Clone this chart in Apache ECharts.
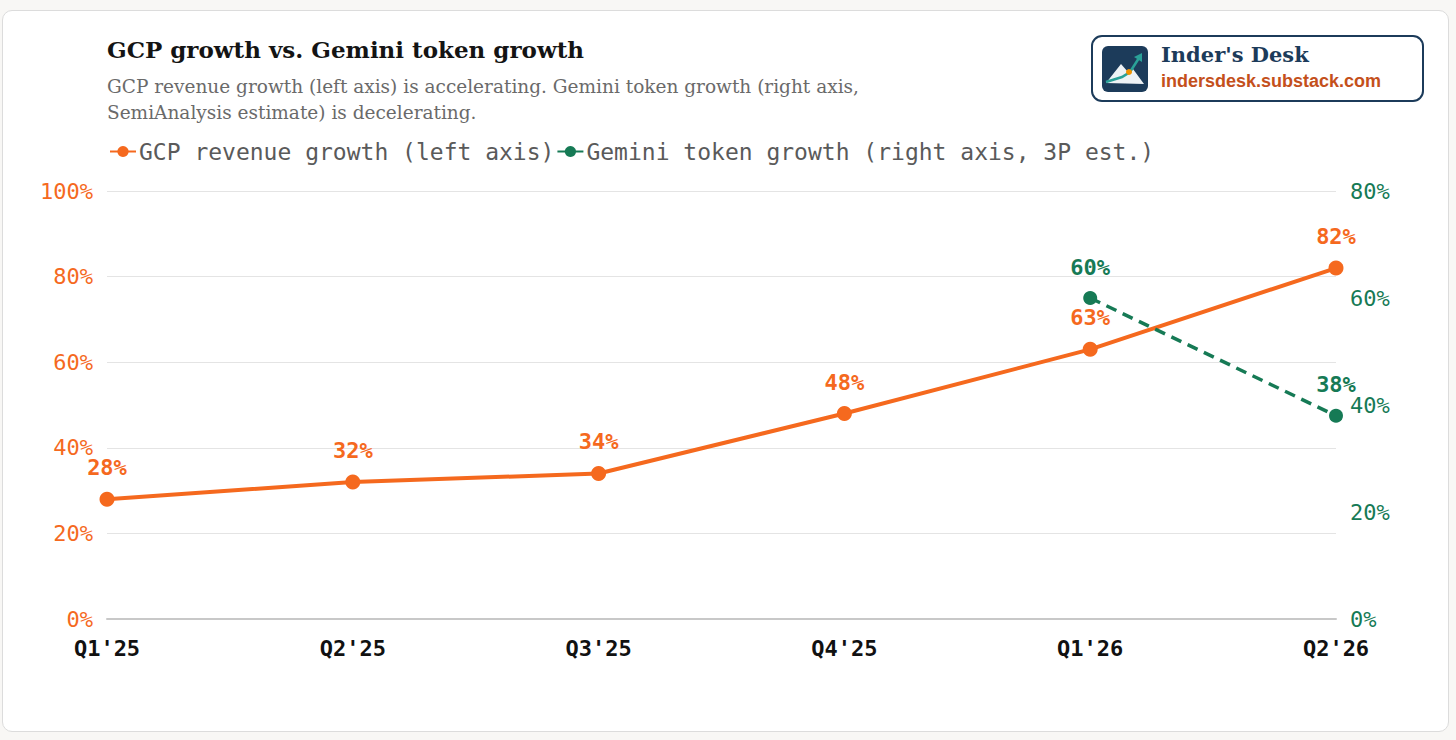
<!DOCTYPE html>
<html>
<head>
<meta charset="utf-8">
<script src="https://cdn.jsdelivr.net/npm/echarts@6/dist/echarts.min.js"></script>
<style>
html,body{margin:0;padding:0;width:1456px;height:740px;background:#f8f7f5;overflow:hidden;}
#card{position:absolute;left:2px;top:10px;width:1445px;height:720px;background:#fff;border:1px solid #dcdcdc;border-radius:10px;}
#chart{position:absolute;left:0;top:0;width:1456px;height:740px;}
</style>
</head>
<body>
<div id="card"></div>
<div id="chart"></div>
<script>
const categories = ["Q1'25", "Q2'25", "Q3'25", "Q4'25", "Q1'26", "Q2'26"];
const gcpGrowth = [28, 32, 34, 48, 63, 82];
const geminiGrowth = [null, null, null, null, 60, 38];
const leftTicks = [0, 20, 40, 60, 80, 100];
const rightTicks = [0, 20, 40, 60, 80];
const titleText = 'GCP growth vs. Gemini token growth';
const subText = 'GCP revenue growth (left axis) is accelerating. Gemini token growth (right axis,\nSemiAnalysis estimate) is decelerating.';
const seriesNames = ['GCP revenue growth (left axis)', 'Gemini token growth (right axis, 3P est.)'];

const ORANGE = '#f5691e';
const GREEN = '#167a55';
const NAVY = '#1c3b5a';
const MONO = "'DejaVu Sans Mono', monospace";

const chart = echarts.init(document.getElementById('chart'), null, {renderer: 'svg'});
chart.setOption({
  backgroundColor: 'transparent',
  animation: false,
  title: {
    text: titleText,
    subtext: subText,
    left: 102,
    top: 33,
    itemGap: 12,
    textStyle: {fontFamily: "'DejaVu Serif', serif", fontWeight: 'bold', fontSize: 23, color: '#141414'},
    subtextStyle: {fontFamily: "'DejaVu Serif', serif", fontSize: 18.5, color: '#6a6a6a', lineHeight: 26}
  },
  legend: {
    left: 104,
    top: 135,
    itemWidth: 26,
    itemHeight: 14,
    itemGap: 2,
    textStyle: {fontFamily: MONO, fontSize: 23, color: '#5a5a5a', padding: [0, 0, 0, -2]},
    data: seriesNames
  },
  grid: {left: 107, right: 120, top: 191, bottom: 121, containLabel: false},
  xAxis: {
    type: 'category',
    data: categories,
    boundaryGap: false,
    axisLine: {lineStyle: {color: '#c8c8c8', width: 2}},
    axisTick: {show: false},
    axisLabel: {fontFamily: MONO, fontWeight: 'bold', fontSize: 22, color: '#111', margin: 18}
  },
  yAxis: [
    {
      type: 'value', min: leftTicks[0], max: leftTicks[leftTicks.length - 1], interval: 20,
      axisLine: {show: false}, axisTick: {show: false},
      splitLine: {lineStyle: {color: '#e4e4e4', width: 1}},
      axisLabel: {formatter: '{value}%', fontFamily: MONO, fontSize: 22, color: ORANGE, margin: 14}
    },
    {
      type: 'value', min: rightTicks[0], max: rightTicks[rightTicks.length - 1], interval: 20,
      position: 'right',
      axisLine: {show: false}, axisTick: {show: false},
      splitLine: {show: false},
      axisLabel: {formatter: '{value}%', fontFamily: MONO, fontSize: 22, color: GREEN, margin: 14}
    }
  ],
  series: [
    {
      name: seriesNames[0],
      type: 'line',
      yAxisIndex: 0,
      data: gcpGrowth,
      symbol: 'circle',
      symbolSize: 15,
      itemStyle: {color: ORANGE},
      lineStyle: {color: ORANGE, width: 4},
      label: {show: true, position: 'top', distance: 13, formatter: '{c}%', fontFamily: MONO, fontWeight: 'bold', fontSize: 22, color: ORANGE}
    },
    {
      name: seriesNames[1],
      type: 'line',
      yAxisIndex: 1,
      data: geminiGrowth,
      symbol: 'circle',
      symbolSize: 14,
      itemStyle: {color: GREEN},
      lineStyle: {color: GREEN, width: 3.5, type: [11, 7]},
      label: {show: true, position: 'top', distance: 13, formatter: '{c}%', fontFamily: MONO, fontWeight: 'bold', fontSize: 22, color: GREEN}
    }
  ],
  graphic: [
    {
      type: 'group',
      left: 1091,
      top: 35,
      children: [
        {type: 'rect', shape: {x: 0, y: 0, width: 331, height: 65, r: 10}, style: {fill: '#fff', stroke: NAVY, lineWidth: 2}},
        {type: 'rect', shape: {x: 10, y: 10, width: 46, height: 46, r: 6}, style: {fill: NAVY}},
        {type: 'polygon', shape: {points: [[14, 47], [29, 28], [36, 36], [41, 33], [52, 48]]}, style: {fill: '#eef2f5'}},
        {type: 'polyline', shape: {points: [[14, 46], [30, 41], [38, 36], [47, 22]]}, style: {stroke: '#2aa198', lineWidth: 2.5, fill: 'none'}},
        {type: 'polygon', shape: {points: [[42, 21], [50, 17], [50, 26]]}, style: {fill: '#2aa198'}},
        {type: 'circle', shape: {cx: 37, cy: 36, r: 3}, style: {fill: '#f39200'}},
        {type: 'text', x: 69, y: 8, style: {text: "Inder's Desk", font: "bold 21px 'DejaVu Serif', serif", fill: NAVY}},
        {type: 'text', x: 69, y: 36, style: {text: 'indersdesk.substack.com', font: "bold 18px 'Liberation Sans', Arial, sans-serif", fill: '#c4501b'}}
      ]
    }
  ]
});
</script>
</body>
</html>
